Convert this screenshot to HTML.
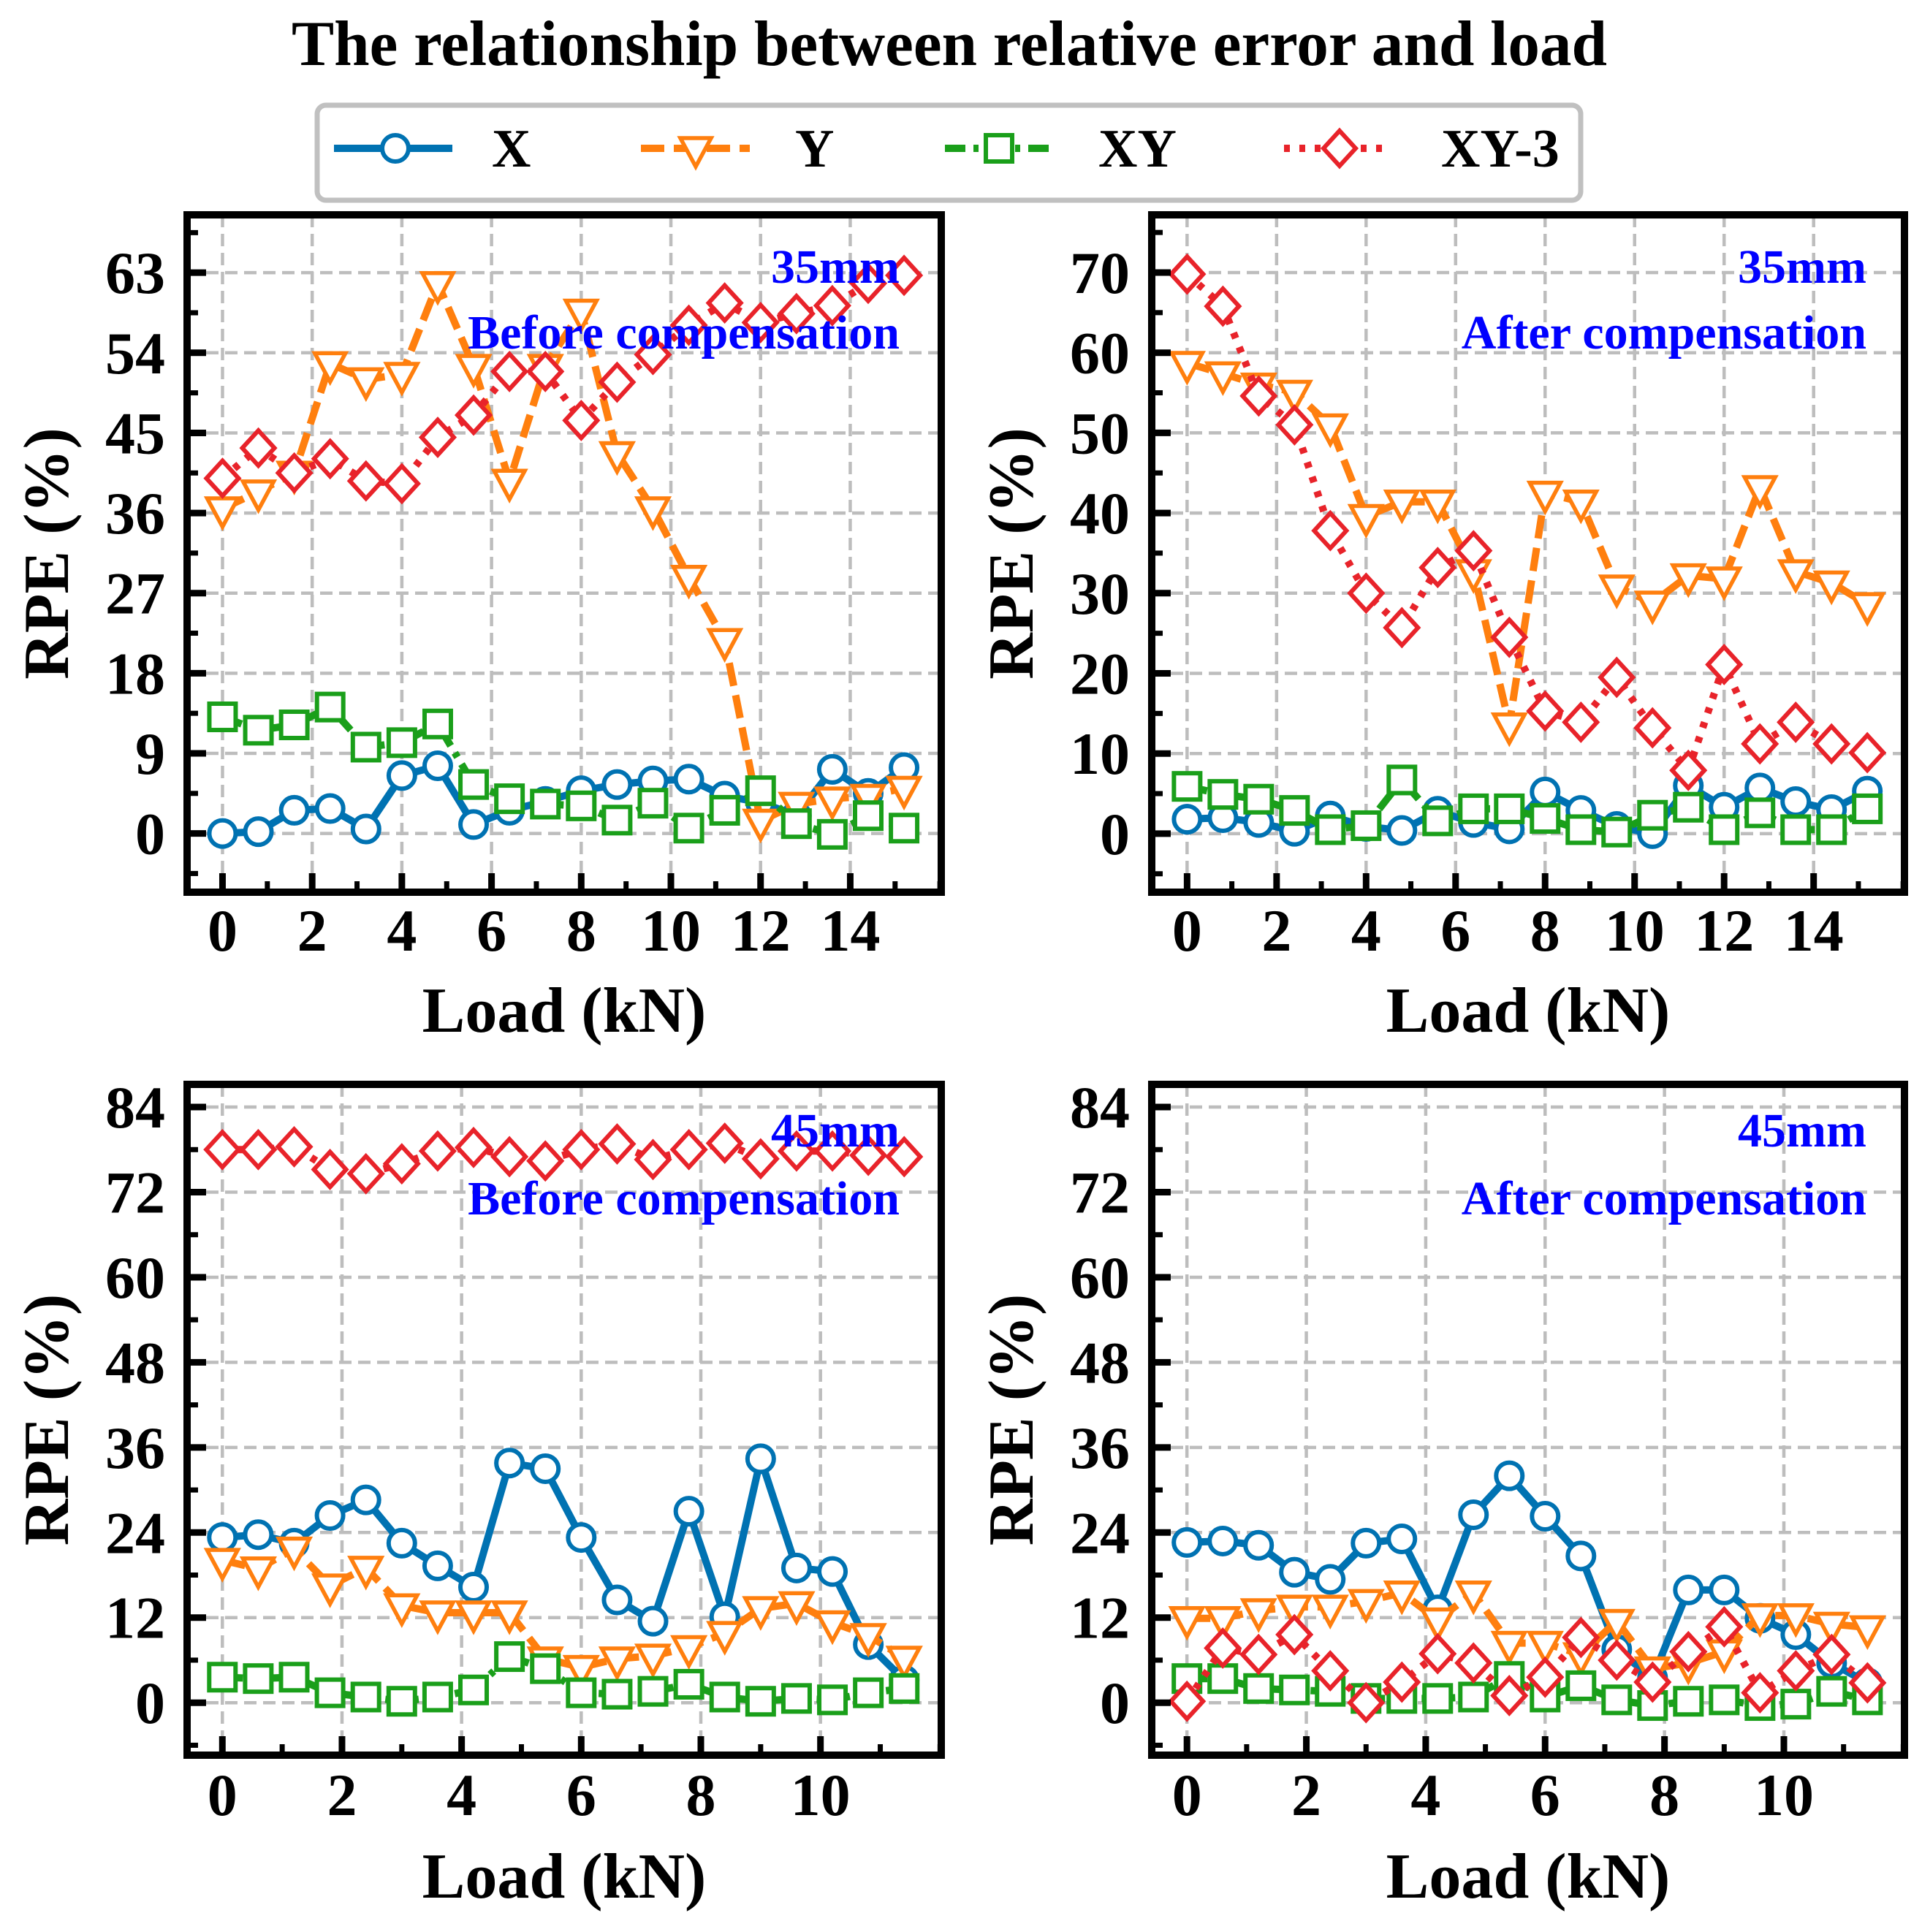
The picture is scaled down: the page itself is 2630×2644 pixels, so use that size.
<!DOCTYPE html>
<html><head><meta charset="utf-8"><style>
html,body{margin:0;padding:0;background:#fff;}
svg{display:block;}
text{font-family:"Liberation Serif",serif;font-weight:bold;}
</style></head><body>
<svg id="fig" xmlns="http://www.w3.org/2000/svg" width="2630" height="2644" viewBox="0 0 2630 2644">
<rect x="0" y="0" width="2630" height="2644" fill="#fff"/>
<text x="1299" y="89" font-size="88" text-anchor="middle" textLength="1800" lengthAdjust="spacingAndGlyphs">The relationship between relative error and load</text>
<g id="legend"></g>
</svg>
<script>
const loadsA = [0,0.8,1.6,2.4,3.2,4,4.8,5.6,6.4,7.2,8,8.8,9.6,10.4,11.2,12,12.8,13.6,14.4,15.2];
const loadsB = [0,0.6,1.2,1.8,2.4,3,3.6,4.2,4.8,5.4,6,6.6,7.2,7.8,8.4,9,9.6,10.2,10.8,11.4];
const seriesNames = ["X","Y","XY","XY-3"];

const tlX = [0,0.2,2.6,2.8,0.5,6.5,7.6,1.0,2.6,3.6,4.8,5.5,5.9,6.1,4.2,3.5,2.0,7.2,4.5,7.4];
const tlY = [36.5,38.4,40.5,52.8,51,51.6,61.8,52.5,39.6,52.5,58.7,42.7,36.5,28.8,21.7,1.4,3.3,3.9,4.2,5.1];
const tlXY = [13.1,11.6,12.2,14.2,9.7,10.2,12.3,5.5,3.9,3.3,3.1,1.5,3.4,0.6,2.6,4.8,1.1,-0.1,2.0,0.6];
const tlXY3 = [39.9,43.3,40.5,42.1,39.6,39.3,44.5,47,51.9,51.9,46.4,50.7,53.8,57.1,59.6,57.4,58.4,59.3,61.8,62.7];

const trX = [1.8,2.0,1.4,0.3,2.2,0.9,0.4,2.8,1.4,0.6,5.2,2.9,0.9,0,6.0,3.3,5.7,4.0,3.0,5.3];
const trY = [58.7,57.4,56,55.1,50.9,39.6,41.4,41.4,32.7,13.6,42.5,41.4,30.8,28.8,32.2,31.8,43.2,32.7,31.3,28.6];
const trXY = [5.9,4.9,4.3,2.9,0.5,1.0,6.7,1.6,3.1,3.1,1.9,0.5,0.2,2.3,3.3,0.5,2.6,0.5,0.5,3.1];
const trXY3 = [69.8,65.8,54.6,51,37.8,30,25.7,33.2,35.3,24.5,15.3,13.9,19.5,13.2,7.9,21.1,11.2,13.9,11.2,10.1];

const blX = [23.3,23.7,22.5,26.4,28.6,22.5,19.3,16.3,33.8,33,23.3,14.5,11.5,27,12.1,34.4,19,18.5,8.2,3.2];
const blY = [20.1,18.9,21.7,16.5,19,13.7,12.7,12.7,12.7,6.2,5,6.2,6.6,7.8,9.8,13.3,14,11.3,9.5,6.3];
const blXY = [3.6,3.4,3.6,1.4,0.8,0.2,0.8,1.8,6.5,4.8,1.4,1.2,1.6,2.6,0.8,0.2,0.6,0.4,1.4,2.0];
const blXY3 = [78,78,78.4,75.2,74.6,76,77.8,78.3,77,76.4,78,78.8,76.6,78,78.9,76.7,77.8,77.8,77.2,77];

const brX = [22.6,22.8,22.2,18.4,17.4,22.5,23.1,13.1,26.5,32,26.3,20.7,7.5,3.5,15.9,15.9,11.9,9.6,5.6,2.8];
const brY = [11.9,11.9,13,13.5,13.5,14.3,15.5,11.7,15.5,8.4,8.4,6.8,11.5,4.8,5.6,7.2,12.3,12.3,11.1,10.6];
const brXY = [3.4,3.4,2,1.8,1.6,0.6,0.6,0.6,0.8,3.7,0.8,2.4,0.4,-0.4,0.2,0.4,-0.4,-0.2,1.6,0.4];
const brXY3 = [0.2,7.7,6.8,9.6,4.5,0,2.9,6.9,5.6,1,3.6,9.2,6,2.9,7.2,10.7,1.4,4.5,6.8,2.8];

const ticksA = [0,2,4,6,8,10,12,14];
const ticksB = [0,2,4,6,8,10];
const yTicksTL = [0,9,18,27,36,45,54,63];
const yTicksTR = [0,10,20,30,40,50,60,70];
const yTicksB = [0,12,24,36,48,60,72,84];

const NS = "http://www.w3.org/2000/svg";
const svg = document.getElementById('fig');
function mk(tag, attrs, parent){const e=document.createElementNS(NS,tag);for(const k in attrs)e.setAttribute(k,attrs[k]);(parent||svg).appendChild(e);return e;}

const COLORS = ["#0072b2","#ff7f0e","#1a9f1a","#e8232a"];
const DASH = ["none","32,13","28,11,7,11","8,13"];
const MARK = ["circle","tri","square","diamond"];

function marker(g, kind, cx, cy, color){
  let el;
  if(kind==="circle") el=mk('circle',{cx:cx,cy:cy,r:18,fill:'#fff',stroke:color,'stroke-width':6},g);
  else if(kind==="tri") el=mk('polygon',{points:`${cx-21},${cy-14} ${cx+21},${cy-14} ${cx},${cy+25}`,fill:'#fff',stroke:color,'stroke-width':5.5},g);
  else if(kind==="square") el=mk('rect',{x:cx-18,y:cy-18,width:36,height:36,fill:'#fff',stroke:color,'stroke-width':6},g);
  else el=mk('polygon',{points:`${cx},${cy-24} ${cx+22},${cy} ${cx},${cy+24} ${cx-22},${cy}`,fill:'#fff',stroke:color,'stroke-width':6},g);
  return el;
}

function panel(cfg){
  const g = mk('g',{});
  
  
  const L=cfg.L,R=cfg.R,T=cfg.T,B=cfg.B;
  const xs=v=>L+(v-cfg.xmin)/(cfg.xmax-cfg.xmin)*(R-L);
  const ys=v=>B-(v-cfg.ymin)/(cfg.ymax-cfg.ymin)*(B-T);
  const defs=mk('defs',{},g);
  const cp=mk('clipPath',{id:cfg.name+'-clip'},defs);
  mk('rect',{x:L,y:T,width:R-L,height:B-T},cp);
  const grid=mk('g',{stroke:'#bdbdbd','stroke-width':4.5,'stroke-dasharray':'17,9'},g);
  
  
  cfg.xt.forEach(v=>{mk('line',{x1:xs(v),x2:xs(v),y1:T,y2:B},grid);});
  cfg.yt.forEach(v=>{mk('line',{x1:L,x2:R,y1:ys(v),y2:ys(v)},grid);});
  const plot=mk('g',{'clip-path':`url(#${cfg.name}-clip)`},g);
  cfg.series.forEach((vals,si)=>{
    const sg=mk('g',{},plot);
    
    
    const pts=vals.map((v,i)=>xs(cfg.x[i])+','+ys(v)).join(' ');
    const pl=mk('polyline',{points:pts,fill:'none',stroke:COLORS[si],'stroke-width':10,'stroke-dasharray':DASH[si],'stroke-linejoin':'round'},sg);
    
    
    vals.forEach((v,i)=>{
      const m=marker(sg,MARK[si],xs(cfg.x[i]),ys(v),COLORS[si]);
      
      
    });
  });
  const fr=mk('rect',{x:L,y:T,width:R-L,height:B-T,fill:'none',stroke:'#000','stroke-width':10},g);
  
  
  const tk=mk('g',{stroke:'#000'},g);
  for(let v=Math.ceil(cfg.xmin);v<=cfg.xmax;v+=1){
    const major=cfg.xt.includes(v);
    mk('line',{x1:xs(v),x2:xs(v),y1:B,y2:B-(major?26:15),'stroke-width':major?9:7},tk);
  }
  const ystep=cfg.ym;
  for(let v=Math.ceil(cfg.ymin/ystep)*ystep;v<=cfg.ymax;v+=ystep){
    const major=cfg.yt.some(t=>Math.abs(t-v)<1e-6);
    mk('line',{x1:L,x2:L+(major?26:15),y1:ys(v),y2:ys(v),'stroke-width':major?9:7},tk);
  }
  cfg.xt.forEach(v=>{
    const t=mk('text',{x:xs(v),y:cfg.xlabY,'font-size':82,'text-anchor':'middle'},g);
    t.textContent=v;
    
    
  });
  cfg.yt.forEach(v=>{
    const t=mk('text',{x:L-30,y:ys(v)+28,'font-size':82,'text-anchor':'end'},g);
    t.textContent=v;
    
    
  });
  const xl=mk('text',{x:(L+R)/2,y:cfg.xtitleY,'font-size':88,'text-anchor':'middle'},g);
  xl.textContent='Load (kN)';
  
  
  const cy=(T+B)/2;
  const yl=mk('text',{x:0,y:0,'font-size':88,'text-anchor':'middle',transform:`translate(${L-163},${cy}) rotate(-90)`},g);
  yl.textContent='RPE (%)';
  
  
  const a1=mk('text',{x:cfg.annX,y:cfg.annY1,'font-size':66,'text-anchor':'end',fill:'#0000ff'},g);
  a1.textContent=cfg.ann1;
  
  
  const a2=mk('text',{x:cfg.annX,y:cfg.annY2,'font-size':66,'text-anchor':'end',fill:'#0000ff'},g);
  a2.textContent=cfg.ann2;
  
  
}

const topRow={T:294,B:1221,xlabY:1301,xtitleY:1412,annY1:387,annY2:477};
const botRow={T:1484,B:2402,xlabY:2484,xtitleY:2597,annY1:1569,annY2:1662};
const leftCol={L:256,R:1288,annX:1231};
const rightCol={L:1576,R:2606,annX:2554};

panel(Object.assign({name:'panel-35mm-before',x:loadsA,xmin:-0.79,xmax:16.03,ymin:-6.6,ymax:69.5,xt:ticksA,yt:yTicksTL,ym:4.5,series:[tlX,tlY,tlXY,tlXY3],ann1:'35mm',ann2:'Before compensation'},topRow,leftCol));
panel(Object.assign({name:'panel-35mm-after',x:loadsA,xmin:-0.79,xmax:16.03,ymin:-7.3,ymax:77.2,xt:ticksA,yt:yTicksTR,ym:5,series:[trX,trY,trXY,trXY3],ann1:'35mm',ann2:'After compensation'},topRow,rightCol));
panel(Object.assign({name:'panel-45mm-before',x:loadsB,xmin:-0.59,xmax:12.02,ymin:-7.4,ymax:87.2,xt:ticksB,yt:yTicksB,ym:6,series:[blX,blY,blXY,blXY3],ann1:'45mm',ann2:'Before compensation'},botRow,leftCol));
panel(Object.assign({name:'panel-45mm-after',x:loadsB,xmin:-0.59,xmax:12.02,ymin:-7.4,ymax:87.2,xt:ticksB,yt:yTicksB,ym:6,series:[brX,brY,brXY,brXY3],ann1:'45mm',ann2:'After compensation'},botRow,rightCol));

const lg=document.getElementById('legend');
svg.appendChild(lg);
const box=mk('rect',{x:434,y:144,width:1729,height:130,rx:12,fill:'#fff',stroke:'#c0c0c0','stroke-width':7},lg);


const legLine=[[457,619,541],[877,1026,952],[1293,1438,1367],[1757,1904,1833]];
const legText=[673,1088,1503,1972];
seriesNames.forEach((n,i)=>{
  const eg=mk('g',{},lg);
  
  
  mk('line',{x1:legLine[i][0],x2:legLine[i][1],y1:203,y2:203,stroke:COLORS[i],'stroke-width':10,'stroke-dasharray':DASH[i]},eg);
  marker(eg,MARK[i],legLine[i][2],203,COLORS[i]);
  const t=mk('text',{x:legText[i],y:228,'font-size':74},eg);
  t.textContent=n;
});
</script>
</body></html>
